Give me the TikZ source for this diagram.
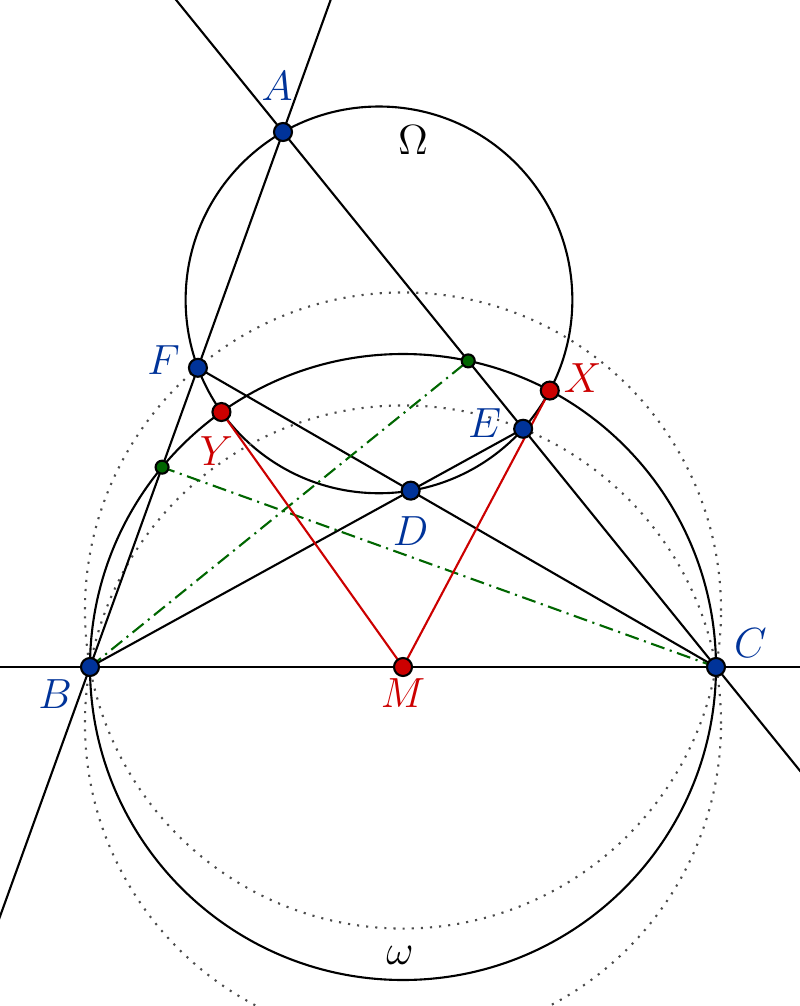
\documentclass[tikz,border=0pt]{standalone}
\usepackage{tikz}
\usetikzlibrary{calc,positioning}
\definecolor{ptblue}{RGB}{0,51,153}
\definecolor{ptred}{RGB}{204,0,0}
\definecolor{ptgreen}{RGB}{0,102,0}

\begin{document}
\begin{tikzpicture}[line width=0.6pt,font=\large]
\tikzstyle{bluept}=[circle,draw=black,line width=0.6pt,fill=ptblue,inner sep=0pt,minimum size=0.18cm]
\tikzstyle{redpt}=[bluept,fill=ptred]
\tikzstyle{greenpt}=[bluept,fill=ptgreen,minimum size=0.13cm]
\tikzstyle{bluelbl}=[text=ptblue,inner sep=0pt]
\tikzstyle{redlbl}=[text=ptred,inner sep=0pt]
\tikzstyle{altitude}=[ptgreen,dash pattern=on 4pt off 1.6pt on 0.6pt off 1.6pt]

\useasboundingbox (-4.03,-3.39) rectangle (3.97,6.67);
\clip (-4.03,-3.39) rectangle (3.97,6.67);

\coordinate (M) at (0,0);
\coordinate (B) at (-3.13,0);
\coordinate (C) at (3.13,0);
\coordinate (A) at (-1.20,5.35);
\coordinate (O) at (-0.24,3.6713);
\coordinate (E) at (1.2018,2.3824);
\coordinate (F) at (-2.0506,2.9922);
\coordinate (D) at (0.0766,1.7636);
\coordinate (X) at (1.4679,2.7644);
\coordinate (Y) at (-1.8153,2.5498);
\coordinate (HB) at (0.6524,3.0612);
\coordinate (HC) at (-2.4092,1.9982);
\coordinate (P1) at (0,0.565);
\coordinate (P2) at (0,-0.565);

% circles
\draw (M) circle (3.13);
\draw (O) circle (1.9337);
\draw[dotted,black!70] (P1) circle (3.1806);
\draw[dotted,black!70] (P2) circle (3.1806);

% lines
\draw ($(A)!-0.4!(B)$) -- ($(A)!1.7!(B)$);
\draw ($(A)!-0.4!(C)$) -- ($(A)!1.4!(C)$);
\draw ($(B)!-0.2!(C)$) -- ($(B)!1.2!(C)$);
\draw (B) -- (E);
\draw (C) -- (F);
\draw[altitude] (B) -- (HB);
\draw[altitude] (C) -- (HC);
\draw[ptred] (M) -- (X)
	(M) -- (Y);

% points
\node[bluept] (nA) at (A) {};
\node[bluept] (nB) at (B) {};
\node[bluept] (nC) at (C) {};
\node[bluept] (nD) at (D) {};
\node[bluept] (nE) at (E) {};
\node[bluept] (nF) at (F) {};
\node[redpt] (nM) at (M) {};
\node[redpt] (nX) at (X) {};
\node[redpt] (nY) at (Y) {};
\node[greenpt] (nHB) at (HB) {};
\node[greenpt] (nHC) at (HC) {};

% labels
\node[bluelbl,above=0.2cm of nA,xshift=-0.06cm] (lA) {$A$};
\node[bluelbl,below left=0.05cm and 0.1cm of nB] (lB) {$B$};
\node[bluelbl,above right=0.01cm and 0.1cm of nC] (lC) {$C$};
\node[bluelbl,below=0.15cm of nD] (lD) {$D$};
\node[bluelbl,left=0.11cm of nE,yshift=0.06cm] (lE) {$E$};
\node[bluelbl,left=0.07cm of nF,yshift=0.08cm] (lF) {$F$};
\node[redlbl,below=0.01cm of nM] (lM) {$M$};
\node[redlbl,right=0.03cm of nX,yshift=0.12cm] (lX) {$X$};
\node[redlbl,below=0.14cm of nY,xshift=-0.05cm] (lY) {$Y$};
\node (lOmega) at (0.10,5.27) {$\Omega$};
\node (lomega) at (-0.03,-2.88) {$\omega$};
\end{tikzpicture}
\end{document}
